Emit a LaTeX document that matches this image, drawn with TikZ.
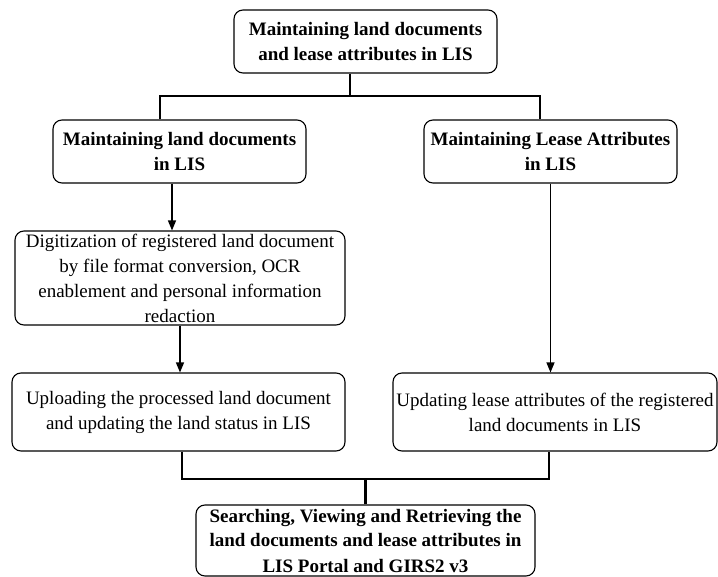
\documentclass[tikz,border=0pt]{standalone}
\usepackage{fontspec}
\setmainfont{Liberation Serif}
\usetikzlibrary{arrows.meta}
\begin{document}
\begin{tikzpicture}[x=1pt,y=-1pt,
  box/.style={draw, rounded corners=9pt, line width=1.1pt, align=center, inner sep=0pt,
    font=\fontsize{19}{25}\selectfont},
  bbox/.style={box, font=\fontsize{19}{25}\selectfont\bfseries},
  tree/.style={line width=2.4pt},
  arr/.style={line width=1.3pt, -{Triangle[length=10pt,width=8pt]}}]
\useasboundingbox (0,0) rectangle (718,577);
\fill[white] (0,0) rectangle (718,577);

\node[bbox, minimum width=263pt, minimum height=63pt] (T) at (365.5,41.5)
  {Maintaining land documents\\and lease attributes in LIS};
\node[bbox, minimum width=253pt, minimum height=63pt] (L1) at (179.5,151.5)
  {Maintaining land documents\\in LIS};
\node[bbox, minimum width=253pt, minimum height=63pt] (R1) at (550.5,151.5)
  {Maintaining Lease Attributes\\in LIS};
\node[box, minimum width=330pt, minimum height=94pt] (L2) at (180,278)
  {Digitization of registered land document\\by file format conversion, OCR\\enablement and personal information\\redaction};
\node[box, minimum width=333pt, minimum height=78pt] (L3) at (178.5,412)
  {Uploading the processed land document\\and updating the land status in LIS};
\node[box, minimum width=324pt, minimum height=78pt] (R3) at (555,412)
  {Updating lease attributes of the registered\\land documents in LIS};
\node[bbox, minimum width=339pt, minimum height=71pt] (B) at (365.5,540.5)
  {Searching, Viewing and Retrieving the\\land documents and lease attributes in\\LIS Portal and GIRS2 v3};

\coordinate (hy) at (0,96);
\coordinate (jy) at (0,479);

% top tree
\draw[tree] ([xshift=-15.5pt]T.south) -- ([xshift=-15.5pt]T.south |- hy);
\draw[tree] ([xshift=-19.5pt]L1.north) |- ([xshift=-10.5pt]R1.north |- hy) -- ([xshift=-10.5pt]R1.north);

% arrows
\draw[arr] ([xshift=-7.5pt]L1.south) -- ([xshift=-7.5pt]L1.south |- L2.north);
\draw[arr] (L2.south) -- (L2.south |- L3.north);
\draw[arr] (R1.south) -- (R1.south |- R3.north);

% bottom tree
\draw[tree] ([xshift=3.5pt]L3.south) |- ([xshift=-6pt]R3.south |- jy) -- ([xshift=-6pt]R3.south);
\draw[tree] (B.north) -- (B.north |- jy);
\end{tikzpicture}
\end{document}
